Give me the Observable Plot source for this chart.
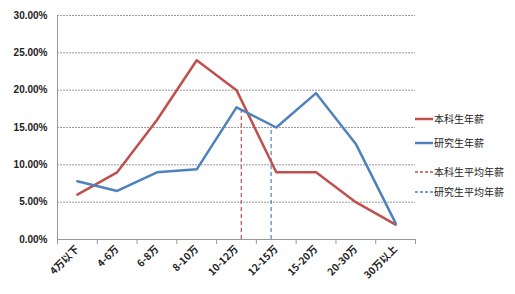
<!DOCTYPE html>
<html><head><meta charset="utf-8">
<script src="https://cdn.jsdelivr.net/npm/d3@7"></script>
<script src="https://cdn.jsdelivr.net/npm/@observablehq/plot@0.6"></script>
<style>
body{margin:0;background:#fff;font-family:"Noto Sans CJK SC","Liberation Sans",sans-serif;}
#wrap{position:relative;width:515px;height:294px;}
#legend{position:absolute;left:415px;top:109px;font-size:10px;color:#222;}
.li{position:absolute;white-space:nowrap;display:flex;align-items:center;}
.li svg{margin-right:1px;}
</style></head>
<body><div id="wrap"></div>
<script>
const categories = ["4万以下","4-6万","6-8万","8-10万","10-12万","12-15万","15-20万","20-30万","30万以上"];
const undergrad = [0.06,0.09,0.16,0.24,0.20,0.09,0.09,0.05,0.02];
const graduate = [0.078,0.065,0.09,0.094,0.177,0.15,0.196,0.128,0.022];
const seriesNames = ["本科生年薪","研究生年薪","本科生平均年薪","研究生平均年薪"];
const colors = ["#C0504D","#4F81BD"];
// average positions (in category index units) and dashed line heights
const avgPos = [4.12, 4.87];
const avgTop = [0.175, 0.15];
const yTicks = [0,0.05,0.10,0.15,0.20,0.25,0.30];

const rows = [];
categories.forEach((c,i)=>{rows.push({i, v:undergrad[i], s:seriesNames[0]}); rows.push({i, v:graduate[i], s:seriesNames[1]});});
const avg = avgPos.map((p,k)=>({p, h:avgTop[k], c:colors[k]}));
const bounds = d3.range(categories.length+1).map(k=>k-0.5);

const chart = Plot.plot({
  width:515, height:294,
  marginLeft:57, marginRight:100, marginTop:15, marginBottom:55,
  style:{fontFamily:'"Noto Sans CJK SC","Liberation Sans",sans-serif', fontSize:"10px", color:"#222"},
  x:{type:"linear", domain:[-0.5, categories.length-0.5]},
  y:{domain:[0,0.30]},
  marks:[
    Plot.gridY(yTicks.slice(1), {stroke:"#999", strokeOpacity:1, strokeDasharray:"2,1"}),
    Plot.ruleY([0], {stroke:"#999"}),
    Plot.ruleX([-0.5], {stroke:"#999"}),
    Plot.axisY(yTicks, {tickFormat:d3.format(".2%"), tickSize:0, tickPadding:10, fontWeight:"bold", fontFamily:'"Liberation Sans",sans-serif', label:null}),
    Plot.axisX(bounds, {tickFormat:()=>"", tickSize:5, stroke:"#999", label:null}),
    Plot.axisX(d3.range(categories.length), {tickFormat:i=>categories[i], tickSize:0, tickRotate:-45, tickPadding:8, fontWeight:"bold", label:null}),
    Plot.ruleX(avg, {x:"p", y1:0, y2:"h", stroke:"c", strokeWidth:1.2, strokeDasharray:"4,3"}),
    Plot.line(rows, {x:"i", y:"v", z:"s", stroke:d=>d.s===seriesNames[0]?colors[0]:colors[1], strokeWidth:2.5})
  ]
});
document.getElementById("wrap").appendChild(chart);
const lg = document.createElement("div"); lg.id="legend";
const tops=[2,26,55,75];
seriesNames.forEach((n,k)=>{
  const d=document.createElement("div"); d.className="li"; d.style.top=tops[k]+"px";
  const c=colors[k%2];
  const dash = k<2 ? "" : `stroke-dasharray="3,2"`;
  const sw = k<2 ? 2.5 : 1.5;
  d.innerHTML=`<svg width="18" height="6"><line x1="0" x2="18" y1="3" y2="3" stroke="${c}" stroke-width="${sw}" ${dash}/></svg><span>${n}</span>`;
  lg.appendChild(d);
});
document.getElementById("wrap").appendChild(lg);
</script></body></html>
